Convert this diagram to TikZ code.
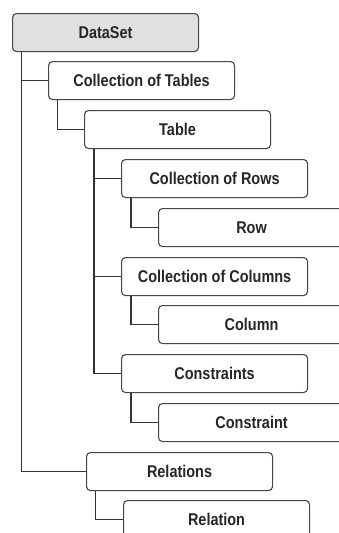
\documentclass[tikz,border=0pt]{standalone}
\usepackage{fontspec}
\setmainfont{Liberation Sans}[FakeStretch=0.85]
\begin{document}
\begin{tikzpicture}[x=1pt,y=-1pt,
  item/.style={draw=black!72, line width=1.1pt, rounded corners=4pt, fill=white,
    minimum width=186pt, minimum height=38pt, inner sep=0pt, anchor=north west,
    text=black!85, font=\fontsize{17}{19}\selectfont\bfseries},
  root/.style={item, fill=black!12},
  link/.style={draw=black!80, line width=1.4pt}]
  \useasboundingbox (0,0) rectangle (339,533);
  \clip (0,0) rectangle (339,533);
  \fill[white] (0,0) rectangle (339,533);

  % hierarchy boxes
  \node[root] (dataset)     at (12,13)  {DataSet};
  \node[item] (tables)      at (48,61)  {Collection of Tables};
  \node[item] (table)       at (84,110) {Table};
  \node[item] (rows)        at (121,159) {Collection of Rows};
  \node[item] (row)         at (158,208) {Row};
  \node[item] (columns)     at (121,257) {Collection of Columns};
  \node[item] (column)      at (158,305) {Column};
  \node[item] (constraints) at (121,354) {Constraints};
  \node[item] (constraint)  at (158,403) {Constraint};
  \node[item] (relations)   at (86,452)  {Relations};
  \node[item] (relation)    at (123,500) {Relation};

  % elbow connectors from each parent to its children
  \draw[link] ([xshift=9.5pt]dataset.south west) |- (tables.west);
  \draw[link] ([xshift=9.5pt]dataset.south west) |- (relations.west);
  \draw[link] ([xshift=9.5pt]tables.south west) |- (table.west);
  \draw[link] ([xshift=10pt]table.south west) |- (rows.west);
  \draw[link] ([xshift=10pt]table.south west) |- (columns.west);
  \draw[link] ([xshift=10pt]table.south west) |- (constraints.west);
  \draw[link] ([xshift=10pt]rows.south west) |- (row.west);
  \draw[link] ([xshift=10pt]columns.south west) |- (column.west);
  \draw[link] ([xshift=10pt]constraints.south west) |- (constraint.west);
  \draw[link] ([xshift=9.5pt]relations.south west) |- (relation.west);
\end{tikzpicture}
\end{document}
